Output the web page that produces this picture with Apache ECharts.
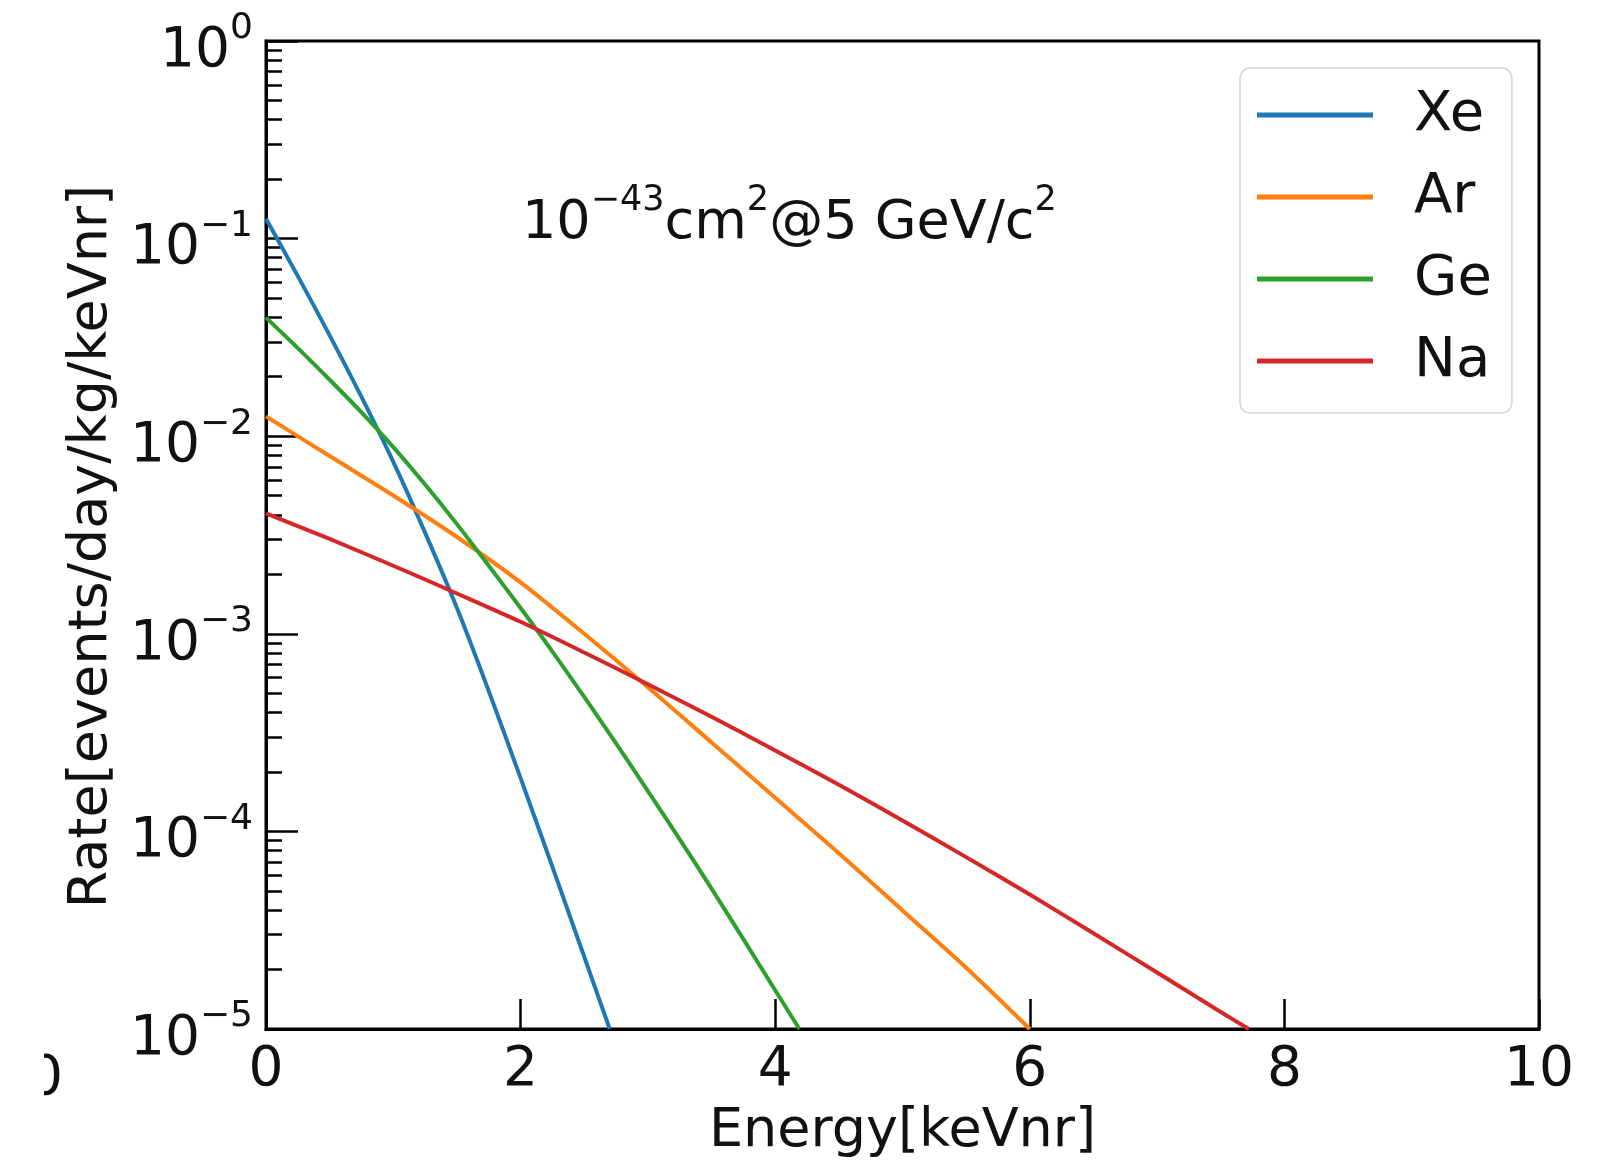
<!DOCTYPE html>
<html>
<head>
<meta charset="utf-8">
<title>Rate vs Energy</title>
<script src="https://cdn.jsdelivr.net/npm/echarts@6/dist/echarts.min.js"></script>
<style>
  html, body { margin: 0; padding: 0; background: #fff; }
  #chart { width: 1614px; height: 1164px; }
</style>
</head>
<body>
<div id="chart"></div>
<script>
// 曲线数据
const xeEnergy = [0, 0.25, 0.5, 0.75, 1.0, 1.25, 1.5, 1.75, 2.0, 2.25, 2.5, 2.7]
const xeRate = [0.126, 0.0646, 0.0324, 0.0158, 0.00741, 0.00324, 0.00135, 5.13e-4, 1.86e-4, 6.61e-5, 2.32e-5, 1.0e-5]

const arEnergy = [0, 0.5, 1.0, 1.5, 2.0, 2.5, 3.0, 3.5, 4.0, 4.5, 5.0, 5.5, 6.0]
const arRate = [0.0126, 0.00794, 0.00501, 0.00309, 0.00182, 1.0e-3, 5.37e-4, 2.82e-4, 1.48e-4, 7.76e-5, 3.98e-5, 2.04e-5, 1.0e-5]

const geEnergy = [0, 0.25, 0.5, 0.75, 1.0, 1.25, 1.5, 1.75, 2.0, 2.25, 2.5, 2.75, 3.0, 3.25, 3.5, 3.75, 4.0, 4.19]
const geRate = [0.0398, 0.0279, 0.0193, 0.0132, 0.00881, 0.00569, 0.00359, 0.00221, 0.00135, 8.13e-4, 4.79e-4, 2.79e-4, 1.60e-4, 9.12e-5, 5.13e-5, 2.85e-5, 1.57e-5, 1.0e-5]

const naEnergy = [0, 0.5, 1.0, 1.5, 2.0, 2.5, 3.0, 3.5, 4.0, 4.5, 5.0, 5.5, 6.0, 6.5, 7.0, 7.5, 7.72]
const naRate = [4.07e-3, 3.02e-3, 2.21e-3, 1.60e-3, 1.15e-3, 8.04e-4, 5.56e-4, 3.80e-4, 2.57e-4, 1.72e-4, 1.135e-4, 7.41e-5, 4.79e-5, 3.05e-5, 1.93e-5, 1.22e-5, 1.0e-5]

const seriesNames = ['Xe', 'Ar', 'Ge', 'Na']
const seriesColors = ['#1f77b4', '#ff7f0e', '#2ca02c', '#d62728']

// 刻度
const xTicks = [0, 2, 4, 6, 8, 10]
const yMajorTicks = [1e-5, 1e-4, 1e-3, 1e-2, 1e-1, 1]
const yMinorTicks = []
for (let d = -5; d < 0; d++) {
  for (let m = 2; m <= 9; m++) yMinorTicks.push(m * Math.pow(10, d))
}

const FONT = 'DejaVu Sans'

const pairs = (xs, ys) => xs.map((x, i) => [x, ys[i]])
const curves = [
  pairs(xeEnergy, xeRate),
  pairs(arEnergy, arRate),
  pairs(geEnergy, geRate),
  pairs(naEnergy, naRate)
]

const chart = echarts.init(document.getElementById('chart'), null, { renderer: 'canvas' })

// 上标用的 rich 样式
const supRich = (big, small, bigLH) => ({
  b: { fontFamily: FONT, fontSize: big, fontWeight: 'normal', lineHeight: bigLH, verticalAlign: 'bottom', color: '#111' },
  s: { fontFamily: FONT, fontSize: small, fontWeight: 'normal', lineHeight: small, verticalAlign: 'top', color: '#111' }
})

const option = {
  animation: false,
  backgroundColor: '#fff',
  title: {
    text: '{b|10}{s|−43}{b|cm}{s|2}{b|@5 GeV/c}{s|2}',
    left: 522,
    top: 183,
    padding: 0,
    textStyle: { fontWeight: 'normal', rich: supRich(54, 35, 68) }
  },
  legend: {
    data: seriesNames,
    orient: 'vertical',
    left: 1240,
    top: 68,
    icon: 'rect',
    itemWidth: 116,
    itemHeight: 5,
    itemGap: 22,
    padding: [17, 20, 22, 17],
    backgroundColor: '#fff',
    borderColor: '#d6d6d6',
    borderWidth: 1.5,
    borderRadius: 10,
    textStyle: {
      fontFamily: FONT,
      fontSize: 56,
      lineHeight: 60,
      color: '#111',
      padding: [0, 0, 0, 36]
    }
  },
  grid: {
    left: 266,
    top: 41,
    width: 1273,
    height: 991,
    show: true,
    borderColor: '#000',
    borderWidth: 3,
    backgroundColor: 'transparent'
  },
  xAxis: {
    type: 'value',
    min: 0,
    max: 10,
    interval: 2,
    name: 'Energy[keVnr]',
    nameLocation: 'middle',
    nameGap: 76,
    nameTextStyle: { fontFamily: FONT, fontSize: 54, color: '#111' },
    axisLine: { show: true, lineStyle: { color: '#000', width: 3 } },
    axisTick: { show: true, inside: true, length: 30, lineStyle: { color: '#000', width: 2.5 } },
    axisLabel: { fontFamily: FONT, fontSize: 55, color: '#111', margin: 14 },
    splitLine: { show: false }
  },
  yAxis: [
    {
      type: 'log',
      logBase: 10,
      min: 1e-5,
      max: 1,
      splitNumber: 5,
      name: 'Rate[events/day/kg/keVnr]',
      nameLocation: 'middle',
      nameGap: 111,
      nameTextStyle: { fontFamily: FONT, fontSize: 54, color: '#111', padding: [0, 23, 0, 0] },
      axisLine: { show: true, lineStyle: { color: '#000', width: 3 } },
      axisTick: { show: true, inside: true, length: 32, lineStyle: { color: '#000', width: 2.5 } },
      axisLabel: {
        margin: 13,
        padding: [8, 0, 0, 0],
        formatter: v => {
          const e = Math.round(Math.log10(v))
          return '{b|10}{s|' + (e < 0 ? '−' + (-e) : e) + '}'
        },
        rich: supRich(55, 36, 68)
      },
      splitLine: { show: false }
    },
    {
      // 次刻度
      type: 'log',
      logBase: 10,
      min: 1e-5,
      max: 1,
      position: 'left',
      axisLine: { show: false },
      axisLabel: { show: false },
      splitLine: { show: false },
      axisTick: {
        show: true,
        inside: true,
        length: 16,
        customValues: yMinorTicks,
        lineStyle: { color: '#000', width: 2.5 }
      }
    }
  ],
  graphic: [
    {
      type: 'text',
      left: 28,
      top: 1052,
      z: 10,
      style: { text: '0', fontFamily: FONT, fontSize: 55, fill: '#111' }
    },
    {
      type: 'rect',
      z: 11,
      shape: { x: 0, y: 1040, width: 44, height: 90 },
      style: { fill: '#fff' }
    }
  ],
  series: seriesNames.map((name, i) => ({
    name,
    type: 'line',
    yAxisIndex: 0,
    data: curves[i],
    showSymbol: false,
    smooth: 0.3,
    clip: true,
    color: seriesColors[i],
    lineStyle: { width: 4, color: seriesColors[i] }
  }))
}

chart.setOption(option)
</script>
</body>
</html>
